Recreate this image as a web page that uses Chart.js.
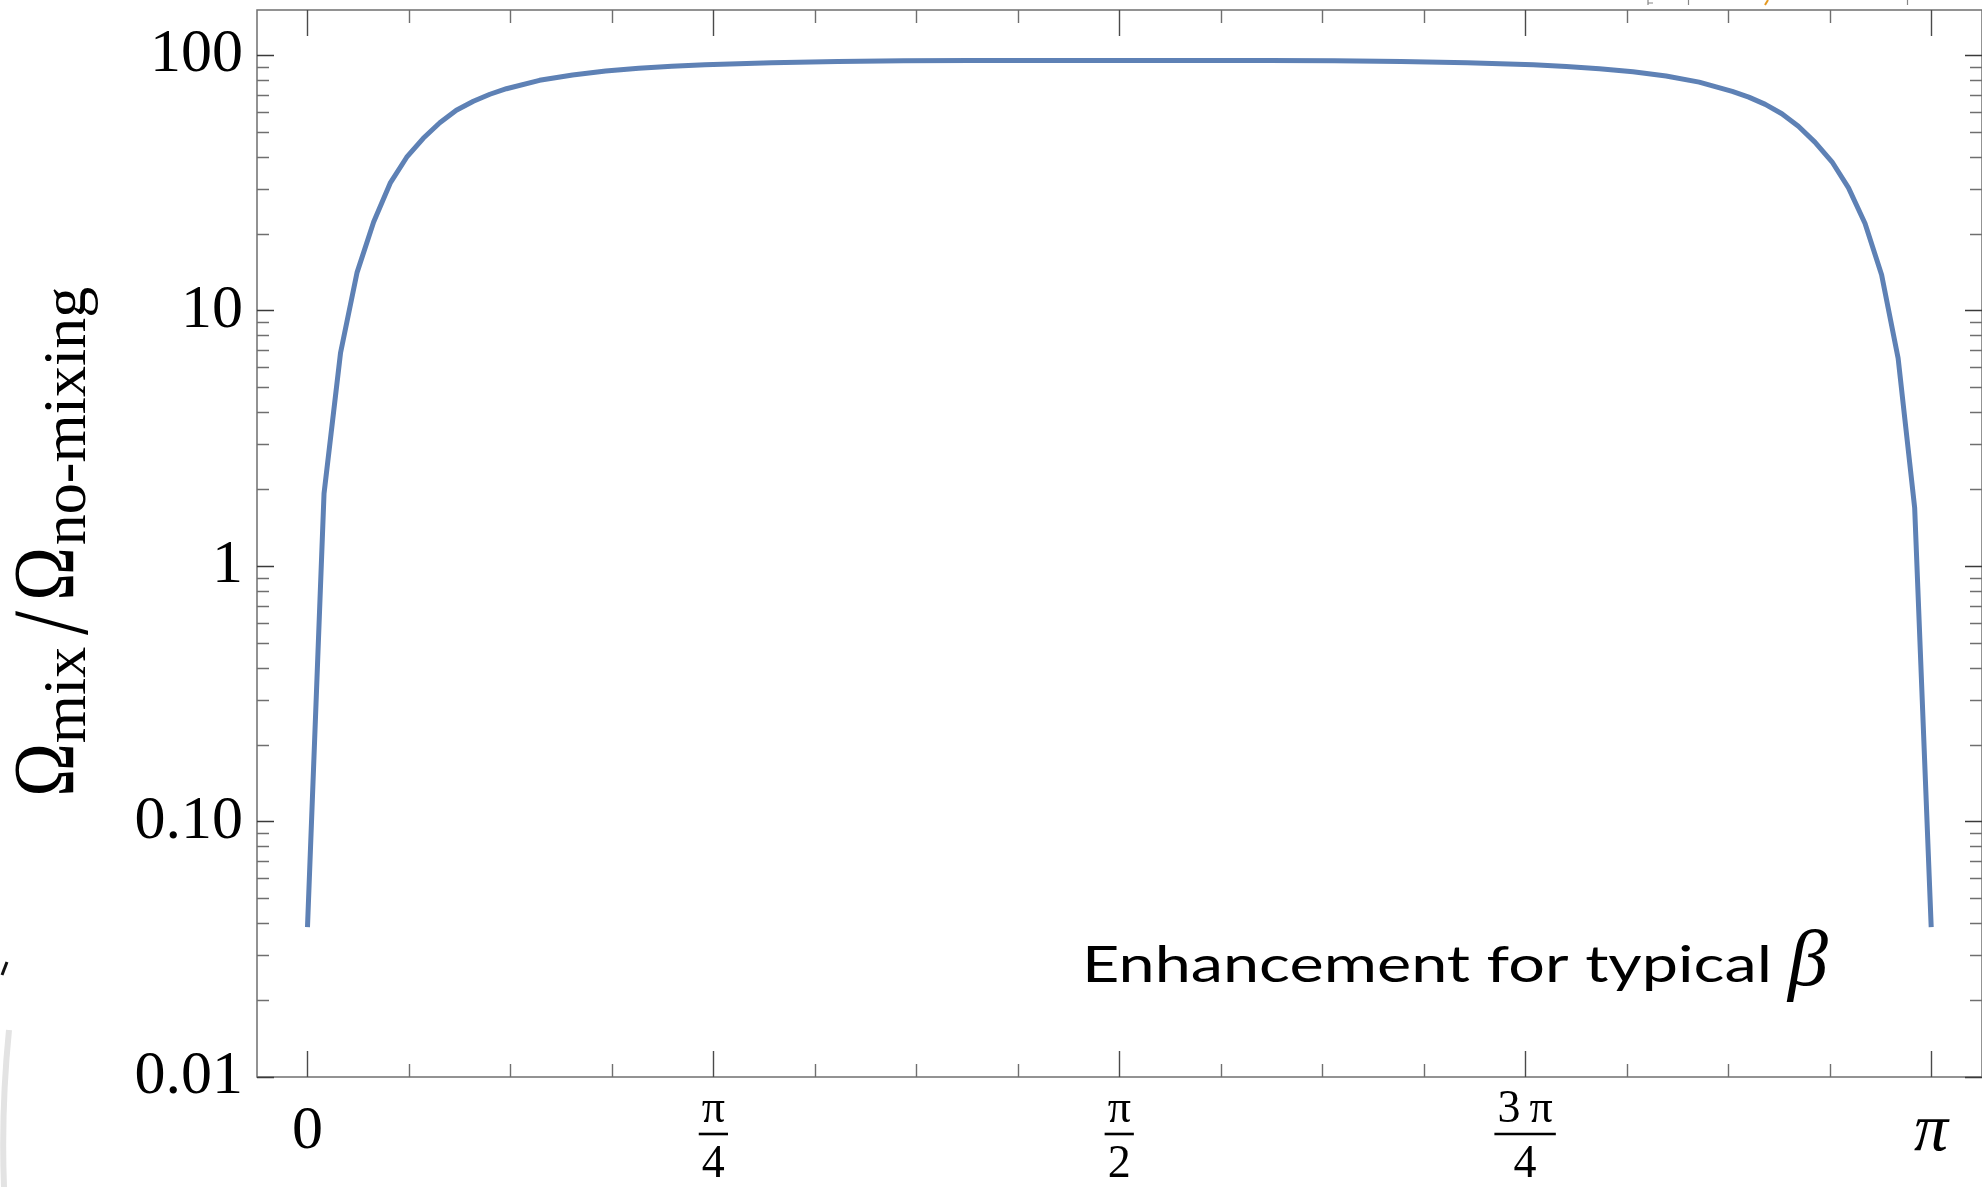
<!DOCTYPE html>
<html>
<head>
<meta charset="utf-8">
<title>Enhancement for typical β</title>
<script src="https://cdn.jsdelivr.net/npm/chart.js@4/dist/chart.umd.min.js"></script>
<style>
  html, body { margin: 0; padding: 0; background: #fff; overflow: hidden; }
  canvas { display: block; }
</style>
</head>
<body>
<canvas id="chart" width="1982" height="1187"></canvas>
<script>
// Mixing angle θ (radians) at each sample of the curve
const theta = [
  0.000, 0.032, 0.064, 0.096, 0.128, 0.160, 0.192, 0.224, 0.256, 0.288,
  0.321, 0.353, 0.385, 0.449, 0.513, 0.577, 0.641, 0.705, 0.769, 0.898,
  1.026, 1.154, 1.282, 1.410, 1.571, 1.731, 1.859, 1.987, 2.116, 2.244,
  2.372, 2.436, 2.500, 2.565, 2.629, 2.693, 2.757, 2.789, 2.821, 2.853,
  2.885, 2.917, 2.950, 2.982, 3.014, 3.046, 3.078, 3.110, 3.142
];

// Ratio Ω_mix / Ω_no-mixing at each θ
const ratio = [
  0.0386, 1.92, 6.84, 14.1, 22.2, 31.5, 39.8, 47.2, 54.3, 60.8,
  65.9, 70.2, 73.8, 79.6, 83.5, 86.5, 88.7, 90.3, 91.6, 93.3,
  94.3, 94.9, 95.1, 95.2, 95.2, 95.2, 95.1, 94.9, 94.3, 93.2,
  91.5, 90.1, 88.4, 86.0, 82.8, 78.3, 72.0, 68.4, 64.1, 58.9,
  52.6, 45.6, 38.2, 30.2, 21.9, 13.8, 6.50, 1.69, 0.0386
];

// Axis ticks
const xTickValues = [0, Math.PI / 4, Math.PI / 2, 3 * Math.PI / 4, Math.PI];
const xTickLabels = ['0', ['π', '4'], ['π', '2'], ['3\u2009π', '4'], 'π'];
const yTickValues = [0.01, 0.1, 1, 10, 100];
const yTickLabels = ['0.01', '0.10', '1', '10', '100'];

const SERIF = '"Liberation Serif", "DejaVu Serif", serif';
const LINE_COLOR = '#5E81B5';
const FRAME_COLOR = '#6f6f6f';

// Fonts for the bottom tick labels: big digits / big italic π, smaller fractions
function xTickFont(ctx) {
  const i = ctx.index;
  if (i === 0) return { family: SERIF, size: 62, lineHeight: 1.613 };
  if (i === xTickValues.length - 1) return { family: SERIF, size: 68, style: 'italic', lineHeight: 1.47 };
  return { family: SERIF, size: 46, lineHeight: 1.207 };
}

// Frame, inward ticks on all four sides, and fraction bars under the π/n labels
const framePlugin = {
  id: 'frameTicks',
  afterDraw(chart) {
    const { ctx, chartArea: a, scales } = chart;
    const xs = scales.x, ys = scales.y;
    ctx.save();

    ctx.strokeStyle = FRAME_COLOR;
    ctx.lineWidth = 1.5;
    ctx.strokeRect(a.left, a.top, a.right - a.left, a.bottom - a.top);

    // θ ticks every π/16, longer at multiples of π/4
    for (let k = 0; k <= 16; k++) {
      const px = Math.round(xs.getPixelForValue(k * Math.PI / 16)) + 0.5;
      const major = k % 4 === 0;
      const len = major ? 26 : 13;
      ctx.strokeStyle = major ? '#4a4a4a' : FRAME_COLOR;
      ctx.lineWidth = 1.4;
      ctx.beginPath();
      ctx.moveTo(px, a.bottom); ctx.lineTo(px, a.bottom - len);
      ctx.moveTo(px, a.top); ctx.lineTo(px, a.top + len);
      ctx.stroke();
    }

    // logarithmic ticks: decades long, 2..9 multiples short
    for (let e = -2; e <= 2; e++) {
      for (let m = 1; m <= 9; m++) {
        const v = m * Math.pow(10, e);
        if (v > ys.max) continue;
        const py = Math.round(ys.getPixelForValue(v)) + 0.5;
        const major = m === 1;
        const len = major ? 17 : 12;
        ctx.strokeStyle = major ? '#3a3a3a' : FRAME_COLOR;
        ctx.lineWidth = major ? 1.6 : 1.3;
        ctx.beginPath();
        ctx.moveTo(a.left, py); ctx.lineTo(a.left + len, py);
        ctx.moveTo(a.right, py); ctx.lineTo(a.right - len, py);
        ctx.stroke();
      }
    }

    // fraction bars for π/4, π/2, 3π/4
    ctx.font = '46px ' + SERIF;
    ctx.strokeStyle = '#000';
    ctx.lineWidth = 2.6;
    for (let i = 1; i < xTickValues.length - 1; i++) {
      const px = xs.getPixelForValue(xTickValues[i]);
      const w = ctx.measureText(xTickLabels[i][0]).width + 6;
      ctx.beginPath();
      ctx.moveTo(px - w / 2, 1134);
      ctx.lineTo(px + w / 2, 1134);
      ctx.stroke();
    }
    ctx.restore();
  }
};

// Axis title Ω_mix / Ω_no-mixing (rotated) and the in-plot note
const textPlugin = {
  id: 'texts',
  afterDraw(chart) {
    const ctx = chart.ctx;
    ctx.save();
    ctx.fillStyle = '#000';
    ctx.translate(73, 797);
    ctx.rotate(-Math.PI / 2);
    ctx.textAlign = 'center';
    ctx.textBaseline = 'alphabetic';
    const parts = [
      { t: 'Ω', size: 86, u: 27, v: 0, su: 0.84, sv: 1 },
      { t: 'mix', size: 62, u: 102, v: 12, su: 1, sv: 1 },
      { t: '/', size: 86, u: 174, v: 14, su: 1, sv: 1.25 },
      { t: 'Ω', size: 86, u: 223, v: 0, su: 0.84, sv: 1 },
      { t: 'no-mixing', size: 62, u: 381, v: 12, su: 1, sv: 1 }
    ];
    parts.forEach(p => {
      ctx.save();
      ctx.font = p.size + 'px ' + SERIF;
      ctx.translate(p.u, p.v);
      ctx.scale(p.su, p.sv);
      ctx.fillText(p.t, 0, 0);
      ctx.restore();
    });
    ctx.restore();

    const note = 'Enhancement for typical';
    ctx.save();
    ctx.fillStyle = '#000';
    ctx.textAlign = 'left';
    ctx.textBaseline = 'alphabetic';
    ctx.font = '51px Lato, "Open Sans", sans-serif';
    const w = ctx.measureText(note).width;
    ctx.translate(1082, 982);
    ctx.scale(690 / w, 1);
    ctx.fillText(note, 0, 0);
    ctx.restore();

    ctx.save();
    ctx.fillStyle = '#000';
    ctx.textBaseline = 'alphabetic';
    ctx.font = 'italic 80px ' + SERIF;
    ctx.fillText('β', 1788, 985);
    ctx.restore();

    // slide fragments at the page edges
    ctx.save();
    ctx.strokeStyle = '#e3e3e3';
    ctx.lineWidth = 6;
    ctx.beginPath();
    ctx.moveTo(9, 1030);
    ctx.quadraticCurveTo(1, 1110, 4, 1187);
    ctx.stroke();
    ctx.strokeStyle = '#111';
    ctx.lineWidth = 3;
    ctx.beginPath();
    ctx.moveTo(7, 962); ctx.lineTo(2, 975);
    ctx.stroke();
    ctx.strokeStyle = '#e59a22';
    ctx.lineWidth = 2;
    ctx.beginPath();
    ctx.moveTo(1768, 0); ctx.lineTo(1765, 5);
    ctx.stroke();
    ctx.strokeStyle = '#888';
    ctx.lineWidth = 1.2;
    ctx.beginPath();
    ctx.moveTo(1648, 0); ctx.lineTo(1648, 5); ctx.moveTo(1648, 3); ctx.lineTo(1653, 3);
    ctx.moveTo(1688.5, 0); ctx.lineTo(1688.5, 5);
    ctx.moveTo(1907.5, 0); ctx.lineTo(1907.5, 5);
    ctx.stroke();
    ctx.restore();
  }
};

const points = theta.map((t, i) => ({ x: t, y: ratio[i] }));

new Chart(document.getElementById('chart'), {
  type: 'line',
  data: {
    datasets: [{
      data: points,
      borderColor: LINE_COLOR,
      borderWidth: 5,
      pointRadius: 0,
      tension: 0,
      fill: false,
      borderJoinStyle: 'round'
    }]
  },
  options: {
    responsive: false,
    animation: false,
    devicePixelRatio: 1,
    layout: { padding: { top: 10, left: 0, right: 0, bottom: 0 } },
    plugins: { legend: { display: false }, tooltip: { enabled: false } },
    scales: {
      x: {
        type: 'linear',
        min: -0.0977,
        max: 3.2403,
        grid: { display: false, drawTicks: false },
        border: { display: false },
        afterBuildTicks: s => { s.ticks = xTickValues.map(v => ({ value: v })); },
        afterFit: s => { s.height = 110; s.paddingLeft = 0; s.paddingRight = 0; },
        ticks: {
          autoSkip: false,
          maxRotation: 0,
          minRotation: 0,
          padding: 5,
          color: '#000',
          font: xTickFont,
          callback: (v, i) => xTickLabels[i]
        }
      },
      y: {
        type: 'logarithmic',
        min: 0.01,
        max: 150,
        grid: { display: false, drawTicks: false },
        border: { display: false },
        afterBuildTicks: s => { s.ticks = yTickValues.map(v => ({ value: v })); },
        afterFit: s => { s.width = 257; s.paddingTop = 0; s.paddingBottom = 0; },
        ticks: {
          autoSkip: false,
          padding: 14,
          color: '#000',
          font: { family: SERIF, size: 62, lineHeight: 0.2 },
          callback: (v, i) => yTickLabels[i]
        }
      }
    }
  },
  plugins: [framePlugin, textPlugin]
});
</script>
</body>
</html>
